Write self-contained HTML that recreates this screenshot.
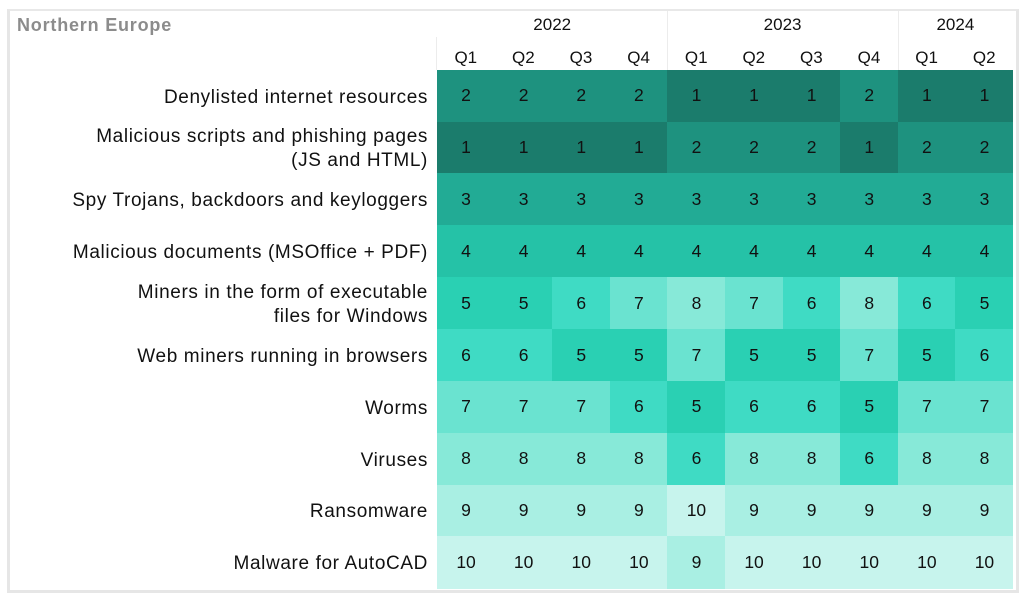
<!DOCTYPE html>
<html><head><meta charset="utf-8">
<style>
html,body{margin:0;padding:0;background:#fff;}
body{width:1024px;height:595px;position:relative;overflow:hidden;font-family:"Liberation Sans",sans-serif;}
.frame{position:absolute;left:7px;top:9px;width:1006px;height:579px;border-left:3px solid #e6e6e6;border-top:2px solid #e8e8e8;border-right:3px solid #e6e6e6;border-bottom:3px solid #e6e6e6;}
.title{position:absolute;left:17px;top:14px;font-size:18px;font-weight:bold;color:#8c8c8c;line-height:22px;letter-spacing:0.8px;}
.vl{position:absolute;width:1px;background:#ececec;}
.yr,.q{position:absolute;text-align:center;font-size:17px;color:#111;line-height:20px;}
.cell{position:absolute;display:flex;align-items:center;justify-content:center;font-size:17.5px;color:#111;}
.lab{position:absolute;right:596px;text-align:right;font-size:19px;color:#111;line-height:24px;display:flex;align-items:center;justify-content:flex-end;letter-spacing:0.62px;white-space:nowrap;}
</style></head><body>
<div class="frame"></div>
<div class="title">Northern Europe</div>
<div class="vl" style="left:436px;top:37px;height:33px;"></div>
<div class="vl" style="left:667px;top:11px;height:59px;"></div>
<div class="vl" style="left:898px;top:11px;height:59px;"></div>
<div id="hdr"></div>
<div id="grid"></div>
<div id="labels"></div>
<script>
var data=[
[2,2,2,2,1,1,1,2,1,1],
[1,1,1,1,2,2,2,1,2,2],
[3,3,3,3,3,3,3,3,3,3],
[4,4,4,4,4,4,4,4,4,4],
[5,5,6,7,8,7,6,8,6,5],
[6,6,5,5,7,5,5,7,5,6],
[7,7,7,6,5,6,6,5,7,7],
[8,8,8,8,6,8,8,6,8,8],
[9,9,9,9,10,9,9,9,9,9],
[10,10,10,10,9,10,10,10,10,10]];
var col={1:"#1b7c6c",2:"#1e927f",3:"#22ab95",4:"#25c2a7",5:"#2ad0b3",6:"#3fdbc4",7:"#6ae3d0",8:"#87e9d8",9:"#a9efe3",10:"#c7f4ed"};
var labels=["Denylisted internet resources","Malicious scripts and phishing pages<br>(JS and HTML)","Spy Trojans, backdoors and keyloggers","Malicious documents (MSOffice + PDF)","Miners in the form of executable<br>files for Windows","Web miners running in browsers","Worms","Viruses","Ransomware","Malware for AutoCAD"];
var x0=437,cw=57.6,y0=69.7,rh=51.85,h="";
for(var r=0;r<10;r++){for(var c=0;c<10;c++){var v=data[r][c];
h+='<div class="cell" style="left:'+(x0+c*cw).toFixed(2)+'px;top:'+(y0+r*rh).toFixed(2)+'px;width:'+(cw+0.5).toFixed(2)+'px;height:'+(rh+0.5).toFixed(2)+'px;background:'+col[v]+'">'+v+'</div>';}}
document.getElementById("grid").innerHTML=h;
var l="";
for(var r=0;r<10;r++){l+='<div class="lab" style="top:'+(y0+r*rh+2).toFixed(2)+'px;height:'+rh.toFixed(2)+'px;"><div>'+labels[r]+'</div></div>';}
document.getElementById("labels").innerHTML=l;
var hh="";
var yrs=[["2022",0,4],["2023",4,8],["2024",8,10]];
yrs.forEach(function(y){hh+='<div class="yr" style="left:'+(x0+y[1]*cw)+'px;width:'+((y[2]-y[1])*cw)+'px;top:15px;">'+y[0]+'</div>';});
var qs=["Q1","Q2","Q3","Q4","Q1","Q2","Q3","Q4","Q1","Q2"];
for(var c=0;c<10;c++){hh+='<div class="q" style="left:'+(x0+c*cw)+'px;width:'+cw+'px;top:48px;">'+qs[c]+'</div>';}
document.getElementById("hdr").innerHTML=hh;
</script>
</body></html>
